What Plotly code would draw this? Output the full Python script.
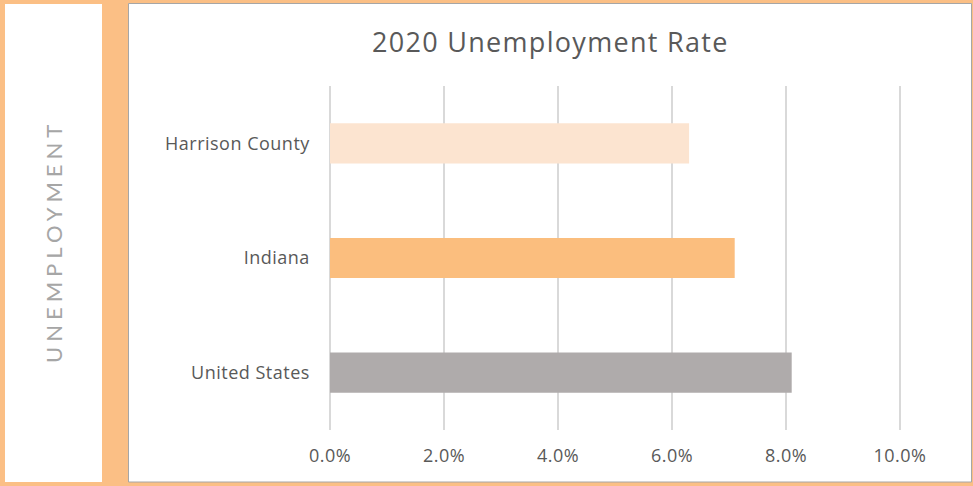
import plotly.graph_objects as go

categories = ["Harrison County", "Indiana", "United States"]
rates = [0.063, 0.071, 0.081]
bar_colors = ["#FCE4D0", "#FBBE7E", "#AFABAB"]
x_ticks = [0, 0.02, 0.04, 0.06, 0.08, 0.10]
x_tick_labels = ["0.0%", "2.0%", "4.0%", "6.0%", "8.0%", "10.0%"]

W, H = 973, 486
def px(x):
    return x / W
def py(y):
    return 1 - y / H

# small padding so the edge gridlines (0% and 10%) are drawn
pad = 0.0002
x0_px, x1_px = 330, 900
scale = (x1_px - x0_px) / 0.1
dom_l = x0_px - pad * scale
dom_r = x1_px + pad * scale

FONT = "Open Sans"
def spaced(t, s):
    return '<span style="letter-spacing:%spx">%s</span>' % (s, t)

fig = go.Figure(go.Bar(
    x=rates, y=categories, orientation="h",
    marker=dict(color=bar_colors, line=dict(width=0)),
    hoverinfo="skip",
))

fig.update_layout(
    template="none",
    width=W, height=H, autosize=False,
    margin=dict(l=0, r=0, t=0, b=0, pad=0),
    paper_bgcolor="#FBBF85",
    plot_bgcolor="rgba(0,0,0,0)",
    showlegend=False,
    bargap=0.65,
    font=dict(family=FONT, color="#595959"),
    xaxis=dict(
        domain=[px(dom_l), px(dom_r)], range=[-pad, 0.1 + pad],
        tickvals=x_ticks, ticktext=[spaced(t, 0.5) for t in x_tick_labels],
        showgrid=True, gridcolor="#D9D9D9", gridwidth=1.5,
        zeroline=False, showline=False, ticks="", fixedrange=True, automargin=False,
        tickfont=dict(size=18, color="#595959", family=FONT), ticklabelstandoff=13,
    ),
    yaxis=dict(
        domain=[py(430), py(86)], categoryorder="array",
        categoryarray=categories[::-1],
        tickvals=categories, ticktext=[spaced(c, 0.5) for c in categories],
        showgrid=False, zeroline=False,
        showline=False, ticks="", fixedrange=True, automargin=False,
        tickfont=dict(size=18, color="#595959", family=FONT), ticklabelstandoff=18,
    ),
    shapes=[
        dict(type="rect", xref="paper", yref="paper", layer="below",
             x0=px(5), x1=px(102), y0=py(482), y1=py(4),
             fillcolor="white", line=dict(width=0)),
        dict(type="rect", xref="paper", yref="paper", layer="below",
             x0=px(128.5), x1=px(971.5), y0=py(482), y1=py(3.5),
             fillcolor="white", line=dict(color="#A6A6A6", width=1)),
    ],
    annotations=[
        dict(text=spaced("2020 Unemployment Rate", 1.3), x=px(550), y=py(42),
             xanchor="center", yanchor="middle",
             xref="paper", yref="paper", showarrow=False,
             font=dict(size=27, color="#595959", family=FONT)),
        dict(text=spaced("UNEMPLOYMENT", 5),
             x=px(53), y=py(242), textangle=-90,
             xanchor="center", yanchor="middle",
             xref="paper", yref="paper", showarrow=False,
             font=dict(size=22, color="#A6A6A6", family="Lato")),
    ],
)

fig.write_html(
    "out.html",
    config={"displayModeBar": False},
    post_script="document.body.style.margin='0';document.body.style.overflow='hidden';",
)
